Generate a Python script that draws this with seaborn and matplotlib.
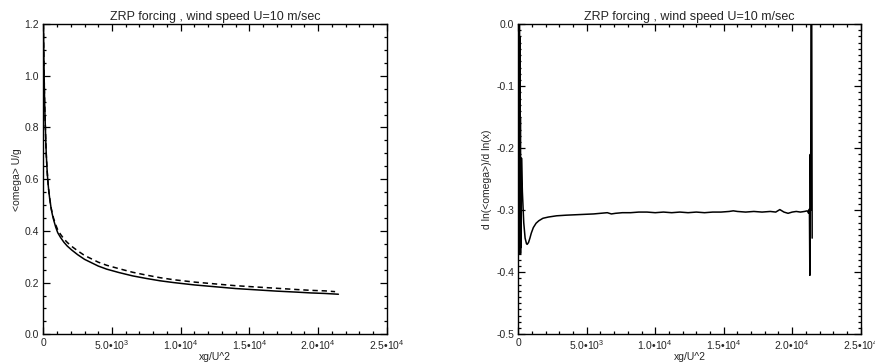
import numpy as np
import pandas as pd
import matplotlib
matplotlib.use("Agg")
import matplotlib.pyplot as plt
from matplotlib.ticker import MultipleLocator, FuncFormatter
import seaborn as sns

# ---------------- data ----------------
title = "ZRP forcing , wind speed U=10 m/sec"
xlabel = "xg/U^2"
ylabel_left = "<omega> U/g"
ylabel_right = "d ln(<omega>)/d ln(x)"

solid_x = [5, 15, 30, 45, 60, 80, 100, 125, 150, 185, 220, 270, 320, 380, 450, 560,
           650, 750, 900, 1050, 1250, 1500, 1750, 2070, 2500, 3000, 4000, 4615, 5500,
           6500, 7500, 8500, 9500, 11000, 12500, 14000, 15500, 17000, 18500, 19500,
           20500, 21480]
solid_y = [1.2, 1.16, 1.1, 1.05, 1.0, 0.94, 0.89, 0.84, 0.8, 0.738, 0.691, 0.64, 0.6,
           0.564, 0.531, 0.49, 0.465, 0.443, 0.415, 0.393, 0.375, 0.356, 0.341, 0.326,
           0.308, 0.29, 0.264, 0.252, 0.239, 0.226, 0.216, 0.207, 0.2, 0.191, 0.184,
           0.177, 0.172, 0.167, 0.163, 0.16, 0.158, 0.155]

dashed_x = [5, 15, 30, 45, 60, 80, 100, 125, 150, 185, 220, 270, 320, 380, 450, 560,
            650, 750, 900, 1050, 1250, 1500, 1750, 2070, 2500, 3000, 4000, 4615, 5500,
            6500, 7500, 8500, 9500, 11000, 12500, 14000, 15500, 17000, 18500, 19500,
            20500, 21240]
dashed_y = [1.2, 1.16, 1.1, 1.05, 1.0, 0.94, 0.89, 0.84, 0.8, 0.738, 0.691, 0.64, 0.6,
            0.564, 0.531, 0.491, 0.468, 0.448, 0.424, 0.404, 0.387, 0.369, 0.355, 0.340,
            0.323, 0.305, 0.279, 0.267, 0.254, 0.240, 0.229, 0.219, 0.211, 0.202, 0.195,
            0.188, 0.183, 0.178, 0.173, 0.170, 0.168, 0.165]

deriv_x = [60, 72, 84, 96, 108, 120, 132, 144, 156, 168, 180, 195, 210, 235, 300, 400,
           500, 600, 650, 750, 850, 950, 1100, 1300, 1500, 1800, 2200, 2800, 3500, 4500,
           5500, 6000, 6500, 6800, 7100, 7600, 8200, 8800, 9400, 10000, 10600, 11200,
           11800, 12400, 13000, 13600, 14200, 14800, 15400, 15700, 16000, 16600, 17200,
           17800, 18400, 18800, 19100, 19400, 19700, 20000, 20300, 20600, 20900, 21100,
           21200, 21260, 21290, 21320, 21350, 21380, 21420, 21460]
deriv_y = [0.05, -0.37, 0.03, -0.36, -0.02, -0.37, -0.08, -0.35, -0.15, -0.37,
           -0.24, -0.36, -0.3, -0.216, -0.27, -0.32, -0.345, -0.354, -0.355, -0.352,
           -0.345, -0.337, -0.328, -0.321, -0.317, -0.313, -0.311, -0.309, -0.308,
           -0.307, -0.306, -0.305, -0.304, -0.306, -0.305, -0.304, -0.304, -0.303,
           -0.303, -0.304, -0.303, -0.304, -0.303, -0.304, -0.303, -0.304, -0.303,
           -0.303, -0.302, -0.301, -0.302, -0.303, -0.302, -0.303, -0.302, -0.303,
           -0.299, -0.303, -0.305, -0.303, -0.302, -0.303, -0.302, -0.301, -0.305,
           -0.298, -0.405, -0.21, -0.30, 0.10, 0.10, -0.345]

# ---------------- style ----------------
sns.set_style("ticks")
plt.rcParams["font.family"] = ["Liberation Sans", "DejaVu Sans"]
plt.rcParams["mathtext.fontset"] = "custom"
plt.rcParams["mathtext.rm"] = "Liberation Sans"
plt.rcParams["mathtext.it"] = "Liberation Sans"
plt.rcParams["axes.unicode_minus"] = False

fig = plt.figure(figsize=(8.75, 3.62), dpi=100)
ax1 = fig.add_axes([0.0495, 0.0765, 0.3925, 0.857])
ax2 = fig.add_axes([0.5923, 0.0765, 0.3913, 0.857])


def xfmt(v, pos):
    if abs(v) < 1e-9:
        return "0"
    e = int(np.floor(np.log10(abs(v))))
    m = v / 10 ** e
    return f"{m:.1f}\u2022" + "10$^{" + str(e) + "}$"


df1 = pd.DataFrame({"x": solid_x, "y": solid_y})
df2 = pd.DataFrame({"x": dashed_x, "y": dashed_y})
df3 = pd.DataFrame({"x": deriv_x, "y": deriv_y})

sns.lineplot(data=df1, x="x", y="y", ax=ax1, color="black", lw=1.1,
             estimator=None, sort=False)
sns.lineplot(data=df2, x="x", y="y", ax=ax1, color="black", lw=1.1,
             estimator=None, sort=False, linestyle=(0, (3.5, 2.5)))
sns.lineplot(data=df3, x="x", y="y", ax=ax2, color="black", lw=1.1,
             estimator=None, sort=False)

for ax, ylim, ymaj, ymin, ylab, lpad in [
        (ax1, (0, 1.2), 0.2, 0.05, ylabel_left, 2),
        (ax2, (-0.5, 0.0), 0.1, 0.01, ylabel_right, 3)]:
    ax.set_xlim(0, 25000)
    ax.set_ylim(*ylim)
    ax.xaxis.set_major_locator(MultipleLocator(5000))
    ax.xaxis.set_minor_locator(MultipleLocator(1000))
    ax.yaxis.set_major_locator(MultipleLocator(ymaj))
    ax.yaxis.set_minor_locator(MultipleLocator(ymin))
    ax.xaxis.set_major_formatter(FuncFormatter(xfmt))
    ax.yaxis.set_major_formatter(FuncFormatter(
        lambda v, p: "{:.1f}".format(v + 0.0) if abs(v) > 1e-9 else "0.0"))
    ax.tick_params(which="both", direction="in", top=True, right=True,
                   color="black", width=0.9, labelsize=7.5, pad=3)
    ax.tick_params(which="major", length=5)
    ax.tick_params(which="minor", length=2.5)
    for s in ax.spines.values():
        s.set_linewidth(1.0)
        s.set_color("black")
    ax.set_title(title, fontsize=9, pad=3)
    ax.set_xlabel(xlabel, fontsize=7.5, labelpad=0)
    ax.set_ylabel(ylab, fontsize=7.5, labelpad=lpad)

fig.savefig("out.png", dpi=100)
